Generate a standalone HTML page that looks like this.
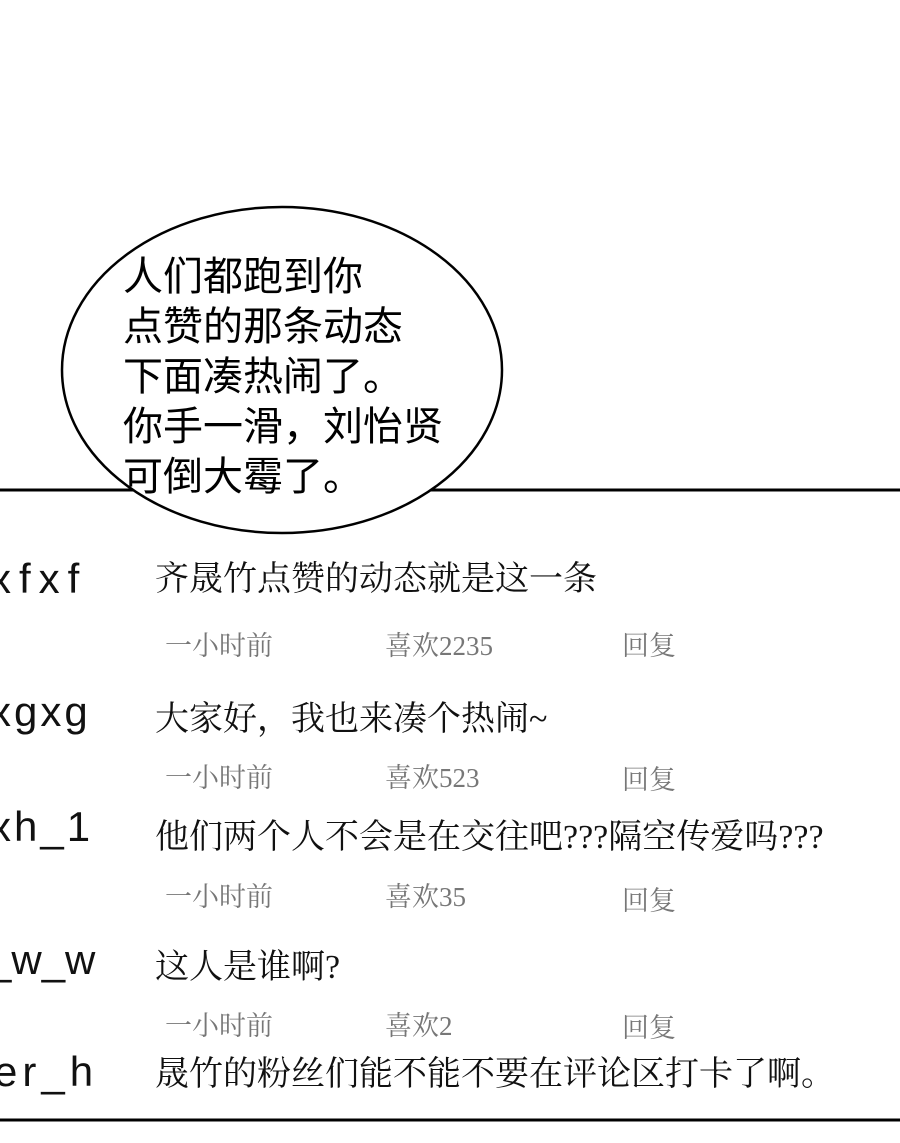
<!DOCTYPE html>
<html><head><meta charset="utf-8"><style>
body{margin:0;width:900px;height:1143px;background:#fff;position:relative;overflow:hidden}
.a{position:absolute;white-space:nowrap;line-height:1}
.u{font-family:"Liberation Sans",sans-serif;font-size:42px;color:#111;letter-spacing:2px}
.c{font-family:"Liberation Serif","Noto Serif CJK SC",serif;font-size:34px;color:#111}
.m{font-family:"Liberation Serif","Noto Serif CJK SC",serif;font-size:27px;color:#777}
.b{font-family:"Liberation Sans","Noto Sans CJK SC",sans-serif;font-size:40px;color:#000;line-height:50px}
</style></head><body>
<svg class="a" style="left:0;top:0" width="900" height="1143">
<line x1="0" y1="490" x2="900" y2="490" stroke="#000" stroke-width="3"/>
<line x1="0" y1="1120" x2="900" y2="1120" stroke="#000" stroke-width="3"/>
<ellipse cx="282" cy="370" rx="220" ry="163" fill="#fff" stroke="#000" stroke-width="2.5"/>
</svg>
<div class="a b" style="left:123px;top:252px">人们都跑到你<br>点赞的那条动态<br>下面凑热闹了。<br>你手一滑，刘怡贤<br>可倒大霉了。</div>
<div class="a u" style="left:-10px;top:558px;letter-spacing:8px">xfxf</div>
<div class="a u" style="left:-10px;top:691px;letter-spacing:3px">xgxg</div>
<div class="a u" style="left:-10px;top:806px;letter-spacing:3px">xh_1</div>
<div class="a u" style="left:-12px;top:939px;letter-spacing:0px">_w_w</div>
<div class="a u" style="left:-6px;top:1051px;letter-spacing:5px">er_h</div>
<div class="a c" style="left:155px;top:563px">齐晟竹点赞的动态就是这一条</div>
<div class="a c" style="left:155px;top:703px">大家好，我也来凑个热闹~</div>
<div class="a c" style="left:155px;top:821px">他们两个人不会是在交往吧???隔空传爱吗???</div>
<div class="a c" style="left:155px;top:951px">这人是谁啊?</div>
<div class="a c" style="left:155px;top:1058px">晟竹的粉丝们能不能不要在评论区打卡了啊。</div>
<div class="a m" style="left:165px;top:633px">一小时前</div><div class="a m" style="left:385px;top:633px">喜欢2235</div><div class="a m" style="left:622px;top:633px">回复</div>
<div class="a m" style="left:165px;top:765px">一小时前</div><div class="a m" style="left:385px;top:765px">喜欢523</div><div class="a m" style="left:622px;top:767px">回复</div>
<div class="a m" style="left:165px;top:884px">一小时前</div><div class="a m" style="left:385px;top:884px">喜欢35</div><div class="a m" style="left:622px;top:888px">回复</div>
<div class="a m" style="left:165px;top:1013px">一小时前</div><div class="a m" style="left:385px;top:1013px">喜欢2</div><div class="a m" style="left:622px;top:1015px">回复</div>
</body></html>
